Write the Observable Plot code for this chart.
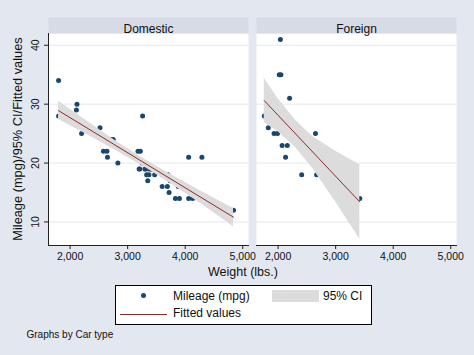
<!DOCTYPE html>
<html>
<head>
<meta charset="utf-8">
<script src="https://cdn.jsdelivr.net/npm/d3@7"></script>
<script src="https://cdn.jsdelivr.net/npm/@observablehq/plot@0.6"></script>
<style>
  html, body { margin: 0; padding: 0; background: #e2e7f0; }
  #wrap { position: relative; width: 474px; height: 355px; background: #e2e7f0; overflow: hidden;
          font-family: "Liberation Sans", Arial, Helvetica, sans-serif; color: #111; }
  #chart { position: absolute; left: 0; top: 0; }
  .abs { position: absolute; white-space: nowrap; line-height: 1; }
  .ctr { transform: translate(-50%, -50%); }
  .vmid { transform: translateY(-50%); }
</style>
</head>
<body>
<div id="wrap">
  <div id="chart"></div>
</div>
<script>
// ---- data (Stata auto dataset) ----
const facets = ["Domestic", "Foreign"];

const domesticWeight = [2930,3350,2640,3250,4080,3670,2230,3280,3880,3400,4330,3900,4290,2110,3690,3180,3220,2750,3430,2120,3600,3600,3740,1800,2650,4840,4720,3830,2580,4060,3720,3370,4130,2830,4060,3310,3300,3690,3370,2730,4030,3260,1800,2200,2520,3330,3700,3470,3210,3200,3420,2690];
const domesticMpg    = [22,17,22,20,15,18,26,20,16,19,14,14,21,29,16,22,22,24,19,30,18,16,17,28,21,12,12,14,22,14,15,18,14,20,21,19,19,18,19,24,16,28,34,25,26,18,18,18,19,19,19,24];

const foreignWeight = [2830,2070,2650,2370,2020,2280,2750,2130,2240,1760,1980,3420,1830,2050,2410,2200,2670,2160,2040,1930,1990,3170];
const foreignMpg    = [17,23,25,23,35,24,21,21,25,28,30,14,26,35,18,31,18,23,41,25,25,17];

// fitted line end points
const domesticFitWeight = [1800, 4840];
const domesticFitValue  = [28.9, 10.8];
const foreignFitWeight  = [1760, 3420];
const foreignFitValue   = [30.6, 13.4];

// 95% CI band
const domesticCiWeight = [1800, 2300, 2800, 3300, 3800, 4300, 4840];
const domesticCiLow    = [27.4, 24.8, 22.1, 19.3, 16.2, 12.9, 9.2];
const domesticCiHigh   = [30.5, 27.1, 23.7, 20.6, 17.8, 15.1, 12.3];
const foreignCiWeight  = [1760, 2000, 2300, 2600, 3000, 3420];
const foreignCiLow     = [26.9, 25.3, 22.7, 19.1, 13.4, 7.1];
const foreignCiHigh    = [34.4, 30.9, 27.3, 24.5, 22.0, 19.7];

const xTicks = [2000, 3000, 4000, 5000];
const yTicks = [10, 20, 30, 40];

const yTitle = "Mileage (mpg)/95% CI/Fitted values";
const xTitle = "Weight (lbs.)";
const legendLabels = ["Mileage (mpg)", "95% CI", "Fitted values"];
const note = "Graphs by Car type";

// ---- tables ----
const points = [
  ...domesticWeight.map((w, i) => ({type: "Domestic", weight: w, mpg: domesticMpg[i]})),
  ...foreignWeight.map((w, i) => ({type: "Foreign", weight: w, mpg: foreignMpg[i]}))
];
const fit = [
  ...domesticFitWeight.map((w, i) => ({type: "Domestic", weight: w, value: domesticFitValue[i]})),
  ...foreignFitWeight.map((w, i) => ({type: "Foreign", weight: w, value: foreignFitValue[i]}))
];
const ci = [
  ...domesticCiWeight.map((w, i) => ({type: "Domestic", weight: w, lo: domesticCiLow[i], hi: domesticCiHigh[i]})),
  ...foreignCiWeight.map((w, i) => ({type: "Foreign", weight: w, lo: foreignCiLow[i], hi: foreignCiHigh[i]}))
];

const navy = "#1a476f";
const ciGray = "#dcdcdc";
const fitRed = "#8e2b2b";
const axisInk = "#222";

const chart = Plot.plot({
  width: 474,
  height: 280,
  marginTop: 33,
  marginBottom: 35,
  marginLeft: 47.5,
  marginRight: 17,
  style: {background: "transparent", fontFamily: "'Liberation Sans', Arial, sans-serif", fontSize: "10.5px", color: "#111", overflow: "visible"},
  x: {domain: [1625, 5100]},
  y: {domain: [6, 42]},
  fx: {domain: facets, paddingInner: 0.037, paddingOuter: 0, axis: null},
  marks: [
    Plot.frame({fill: "white"}),
    Plot.frame({fill: "#d6dbe5", insetTop: -16, insetBottom: 212}),
    Plot.gridY(yTicks, {stroke: "#e4e7ee", strokeOpacity: 1}),
    Plot.dot(points, {x: "weight", y: "mpg", fx: "type", r: 2.5, fill: navy, stroke: null}),
    Plot.areaY(ci, {x: "weight", y1: "lo", y2: "hi", fx: "type", fill: ciGray, fillOpacity: 1}),
    Plot.line(fit, {x: "weight", y: "value", fx: "type", stroke: fitRed, strokeWidth: 1}),
    Plot.text(facets, {fx: d => d, text: d => d, frameAnchor: "top", dy: -9, fontSize: 12, fill: "#111"}),
    Plot.frame({anchor: "bottom", stroke: axisInk, strokeWidth: 1}),
    Plot.frame({anchor: "left", stroke: axisInk, strokeWidth: 1, facetAnchor: "left"}),
    Plot.axisX({ticks: xTicks, tickFormat: d3.format(","), tickSize: 4, tickPadding: 3, label: null, stroke: axisInk, fontSize: 10.5}),
    Plot.axisY({ticks: yTicks, tickRotate: -90, tickSize: 4, tickPadding: 6, label: null, stroke: axisInk, fontSize: 10.5})
  ]
});
document.getElementById("chart").appendChild(chart);

// ---- titles, legend, note ----
const wrap = document.getElementById("wrap");
function addDiv(html, css, cls) {
  const d = document.createElement("div");
  d.className = "abs " + (cls || "");
  d.innerHTML = html;
  Object.assign(d.style, css);
  wrap.appendChild(d);
  return d;
}
addDiv(yTitle, {left: "18px", top: "139px", fontSize: "12.8px", transform: "translate(-50%,-50%) rotate(-90deg)"});
addDiv(xTitle, {left: "243px", top: "272px", fontSize: "12.5px"}, "ctr");

const legend = document.createElement("div");
Object.assign(legend.style, {position: "absolute", left: "115px", top: "285px", width: "257px", height: "40px",
  boxSizing: "border-box", border: "1px solid #000", background: "white"});
wrap.appendChild(legend);
function addLeg(el, css) { Object.assign(el.style, css); legend.appendChild(el); return el; }
function mk(tag) { const e = document.createElement(tag); return e; }
// marker
addLeg(mk("div"), {position: "absolute", left: "25px", top: "7px", width: "5px", height: "5px", borderRadius: "50%", background: navy});
// labels
const t1 = addLeg(mk("div"), {position: "absolute", left: "57px", top: "9.7px", fontSize: "12px", whiteSpace: "nowrap", transform: "translateY(-50%)", lineHeight: "1"});
t1.textContent = legendLabels[0];
addLeg(mk("div"), {position: "absolute", left: "156px", top: "4px", width: "47px", height: "12px", background: ciGray});
const t2 = addLeg(mk("div"), {position: "absolute", left: "207px", top: "9.7px", fontSize: "12px", whiteSpace: "nowrap", transform: "translateY(-50%)", lineHeight: "1"});
t2.textContent = legendLabels[1];
addLeg(mk("div"), {position: "absolute", left: "4px", top: "28px", width: "47px", height: "1px", background: fitRed});
const t3 = addLeg(mk("div"), {position: "absolute", left: "57px", top: "26.7px", fontSize: "12px", whiteSpace: "nowrap", transform: "translateY(-50%)", lineHeight: "1"});
t3.textContent = legendLabels[2];

addDiv(note, {left: "26.5px", top: "335px", fontSize: "10px"}, "vmid");
</script>
</body>
</html>
